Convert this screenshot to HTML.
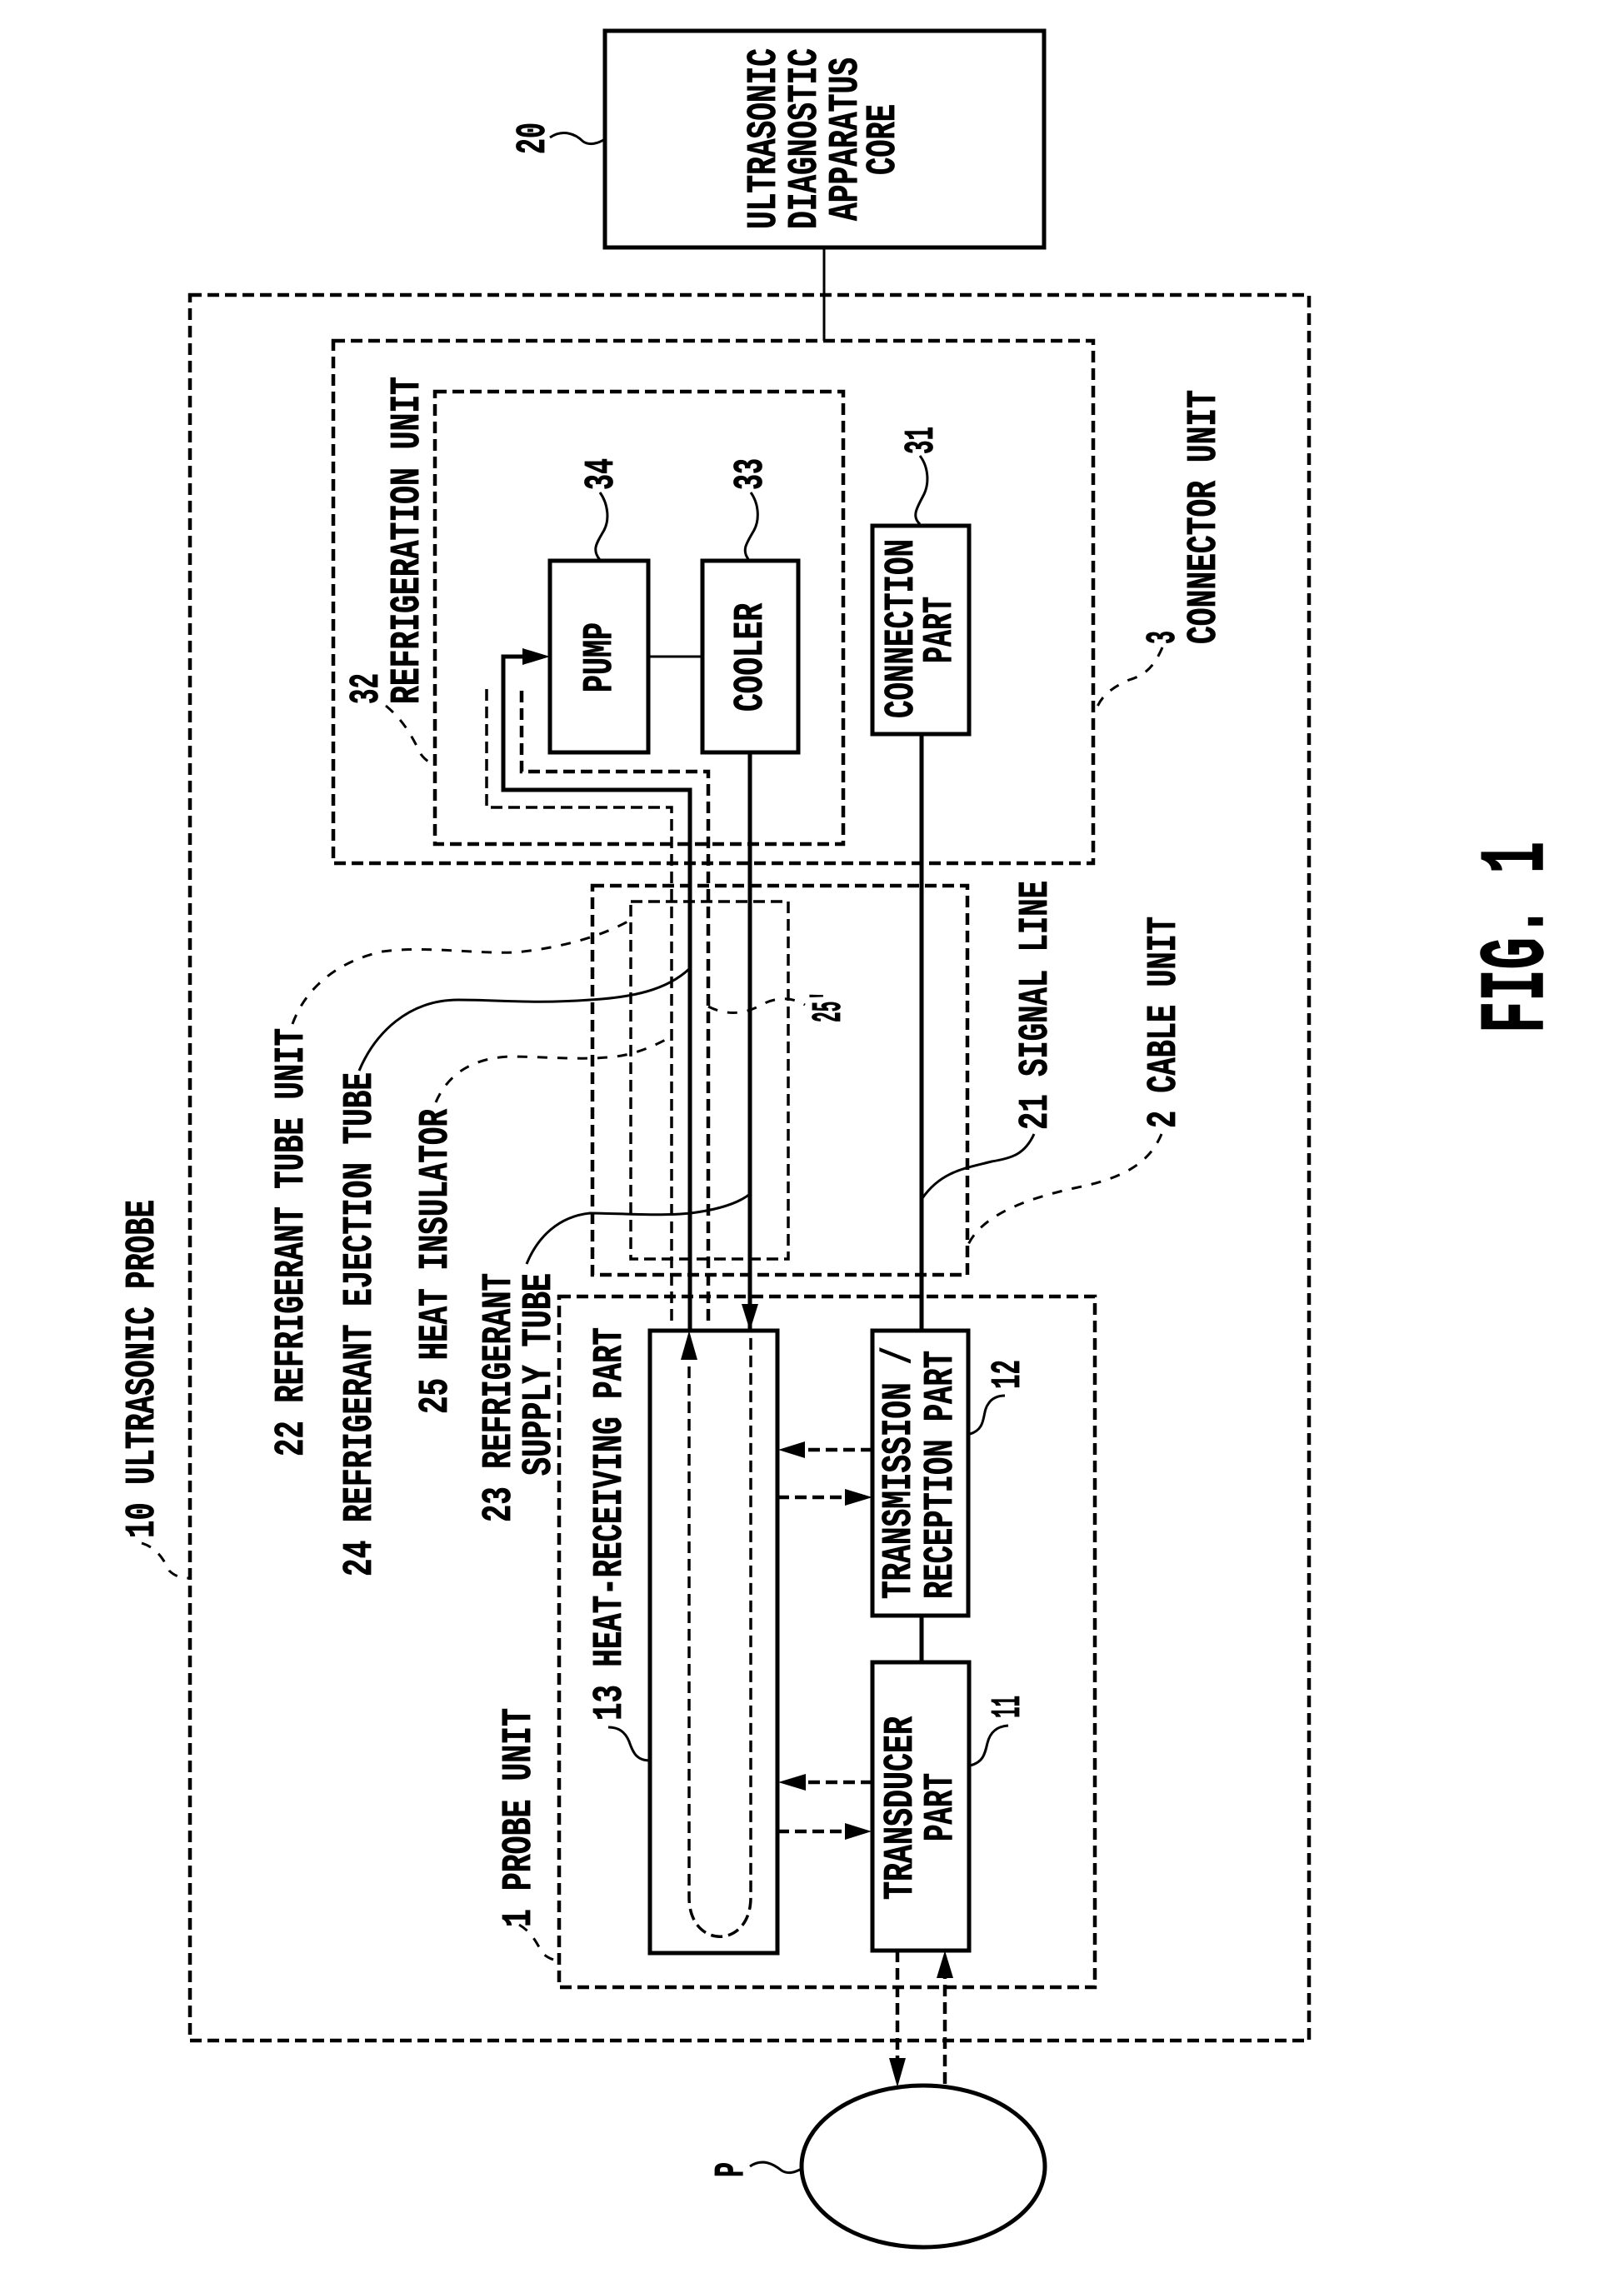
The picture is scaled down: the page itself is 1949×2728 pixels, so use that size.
<!DOCTYPE html>
<html><head><meta charset="utf-8"><style>
html,body{margin:0;padding:0;background:#fff}
svg{display:block}
text{font-family:"Liberation Mono",monospace;font-weight:bold;font-size:50px;fill:#000;stroke:#000;stroke-width:.8}
.b{fill:#fff;stroke:#000;stroke-width:5}
.d{fill:none;stroke:#000;stroke-width:4.5;stroke-dasharray:14 7}
.dt{fill:none;stroke:#000;stroke-width:3.5;stroke-dasharray:14 7}
.s{fill:none;stroke:#000;stroke-width:5}
.l{fill:none;stroke:#000;stroke-width:3}
.ld{fill:none;stroke:#000;stroke-width:3;stroke-dasharray:12 12}
.a{fill:#000}
</style></head><body>
<svg xmlns="http://www.w3.org/2000/svg" width="1949" height="2728" viewBox="0 0 1949 2728">
<rect width="1949" height="2728" fill="#fff"/>
<!-- dashed containers -->
<rect class="d" x="228" y="354" width="1343" height="2095"/>
<rect class="d" x="400" y="409" width="912" height="627"/>
<rect class="d" x="522" y="470" width="490" height="543"/>
<rect class="d" x="711" y="1063" width="450" height="467"/>
<rect class="dt" x="757" y="1082" width="189" height="429"/>
<rect class="d" x="671" y="1556" width="643" height="829"/>
<!-- connectors -->
<path class="l" d="M989 297V409"/>
<path class="l" d="M778 788H843"/>
<path class="s" d="M900 903V1597"/>
<path class="s" d="M1106 881V1597"/>
<path class="s" d="M1106 1939V1995"/>
<path class="s" d="M640 788H604V948H828V1597"/>
<path class="dt" d="M806 1585V969H584V827"/>
<path class="d" d="M850 1585V926H626V828"/>
<!-- boxes -->
<rect class="b" x="726" y="37" width="527" height="260"/>
<rect class="b" x="660" y="673" width="118" height="230"/>
<rect class="b" x="843" y="673" width="115" height="230"/>
<rect class="b" x="1047" y="631" width="116" height="250"/>
<rect class="b" x="780" y="1597" width="153" height="747"/>
<rect class="b" x="1047" y="1597" width="115" height="342"/>
<rect class="b" x="1047" y="1995" width="116" height="346"/>
<ellipse class="b" cx="1108" cy="2600" rx="146" ry="97"/>
<!-- U tube -->
<path class="dt" d="M827 1640V2277C827 2340 901 2340 901 2277V1600"/>
<!-- dashed arrows -->
<path class="d" d="M1047 1740H950"/>
<path class="d" d="M933 1797H1030"/>
<path class="d" d="M1047 2139H950"/>
<path class="d" d="M933 2198H1030"/>
<path class="d" d="M1077 2341V2490"/>
<path class="d" d="M1134 2501V2350"/>
<!-- arrowheads -->
<path class="a" d="M660 788L627 778V798Z"/>
<path class="a" d="M900 1597L890 1565H910Z"/>
<path class="a" d="M827 1597L817 1632H837Z"/>
<path class="a" d="M934 1740L966 1730V1750Z"/>
<path class="a" d="M1047 1797L1014 1787V1807Z"/>
<path class="a" d="M934 2139L967 2129V2149Z"/>
<path class="a" d="M1046 2198L1014 2188V2208Z"/>
<path class="a" d="M1077 2505L1067 2470H1087Z"/>
<path class="a" d="M1134 2341L1124 2374H1144Z"/>
<!-- solid leaders -->
<path class="l" d="M660 165C675 155 690 160 700 170C708 175 718 172 726 167"/>
<path class="l" d="M720 591C730 605 732 625 724 638C716 652 710 660 720 672"/>
<path class="l" d="M901 591C911 605 912 625 904 638C896 652 890 660 898 671"/>
<path class="l" d="M1104 547C1114 560 1116 580 1108 595C1100 610 1094 620 1104 629"/>
<path class="l" d="M1241 1361C1230 1385 1215 1390 1190 1394C1160 1402 1130 1405 1107 1438"/>
<path class="l" d="M431 1285C450 1240 490 1200 550 1200C600 1200 640 1205 708 1200C760 1197 800 1188 827 1163"/>
<path class="l" d="M632 1517C645 1485 670 1460 708 1456C740 1456 790 1460 829 1456C860 1452 885 1445 900 1433"/>
<path class="l" d="M1164 1721C1185 1715 1178 1695 1186 1685C1190 1678 1198 1675 1206 1675"/>
<path class="l" d="M1164 2119C1180 2115 1182 2105 1185 2092C1188 2080 1195 2072 1210 2071"/>
<path class="l" d="M780 2113C765 2113 760 2105 755 2090C750 2078 742 2073 730 2073"/>
<path class="l" d="M900 2600C915 2590 928 2597 938 2605C946 2610 954 2607 962 2603"/>
<!-- dashed leaders -->
<path class="ld" d="M351 1229C365 1190 400 1155 459 1142C510 1135 570 1145 619 1143C670 1138 720 1125 757 1104"/>
<path class="ld" d="M523 1323C535 1295 560 1270 612 1268C660 1268 720 1275 759 1264C780 1258 795 1250 806 1244"/>
<path class="ld" d="M850 1208C870 1218 890 1218 910 1208C930 1196 950 1196 966 1206"/>
<path class="ld" d="M1394 1361C1380 1395 1350 1412 1303 1423C1260 1432 1180 1450 1161 1496"/>
<path class="ld" d="M1395 777C1385 800 1375 810 1355 816C1335 825 1320 835 1314 856"/>
<path class="ld" d="M463 847C485 865 495 885 505 905C510 912 515 915 522 918"/>
<path class="ld" d="M170 1852C190 1858 198 1875 203 1885C210 1892 218 1894 227 1894"/>
<path class="ld" d="M623 2310C640 2320 645 2335 652 2345C658 2350 663 2352 669 2353"/>
<!-- labels -->
<text transform="translate(930,275) rotate(-90)" textLength="217" lengthAdjust="spacingAndGlyphs">ULTRASONIC</text>
<text transform="translate(979,275) rotate(-90)" textLength="217" lengthAdjust="spacingAndGlyphs">DIAGNOSTIC</text>
<text transform="translate(1028,265) rotate(-90)" textLength="196" lengthAdjust="spacingAndGlyphs">APPARATUS</text>
<text transform="translate(1073,210) rotate(-90)" textLength="85" lengthAdjust="spacingAndGlyphs">CORE</text>
<text transform="translate(653,185) rotate(-90)" textLength="38" lengthAdjust="spacingAndGlyphs">20</text>
<text transform="translate(733,831) rotate(-90)" textLength="84" lengthAdjust="spacingAndGlyphs">PUMP</text>
<text transform="translate(914,854) rotate(-90)" textLength="130" lengthAdjust="spacingAndGlyphs">COOLER</text>
<text transform="translate(1095,862) rotate(-90)" textLength="215" lengthAdjust="spacingAndGlyphs">CONNECTION</text>
<text transform="translate(1141,796) rotate(-90)" textLength="80" lengthAdjust="spacingAndGlyphs">PART</text>
<text transform="translate(735,588) rotate(-90)" textLength="38" lengthAdjust="spacingAndGlyphs">34</text>
<text transform="translate(914,588) rotate(-90)" textLength="38" lengthAdjust="spacingAndGlyphs">33</text>
<text transform="translate(1119,545) rotate(-90)" textLength="33" lengthAdjust="spacingAndGlyphs">31</text>
<text transform="translate(1409,773) rotate(-90)" textLength="16" lengthAdjust="spacingAndGlyphs">3</text>
<text transform="translate(1458,773) rotate(-90)" textLength="305" lengthAdjust="spacingAndGlyphs">CONNECTOR UNIT</text>
<text transform="translate(502,845) rotate(-90)" textLength="393" lengthAdjust="spacingAndGlyphs">REFRIGERATION UNIT</text>
<text transform="translate(453,845) rotate(-90)" textLength="37" lengthAdjust="spacingAndGlyphs">32</text>
<text transform="translate(1008,1227) rotate(-90)" textLength="38" lengthAdjust="spacingAndGlyphs">25'</text>
<text transform="translate(1256,1356) rotate(-90)" textLength="299" lengthAdjust="spacingAndGlyphs">21 SIGNAL LINE</text>
<text transform="translate(1410,1354) rotate(-90)" textLength="254" lengthAdjust="spacingAndGlyphs">2 CABLE UNIT</text>
<text transform="translate(363,1748) rotate(-90)" textLength="514" lengthAdjust="spacingAndGlyphs">22 REFRIGERANT TUBE UNIT</text>
<text transform="translate(445,1892) rotate(-90)" textLength="605" lengthAdjust="spacingAndGlyphs">24 REFRIGERANT EJECTION TUBE</text>
<text transform="translate(536,1697) rotate(-90)" textLength="366" lengthAdjust="spacingAndGlyphs">25 HEAT INSULATOR</text>
<text transform="translate(612,1827) rotate(-90)" textLength="299" lengthAdjust="spacingAndGlyphs">23 REFRIGERANT</text>
<text transform="translate(660,1771) rotate(-90)" textLength="243" lengthAdjust="spacingAndGlyphs">SUPPLY TUBE</text>
<text transform="translate(745,2065) rotate(-90)" textLength="472" lengthAdjust="spacingAndGlyphs">13 HEAT-RECEIVING PART</text>
<text transform="translate(1092,1919) rotate(-90)" textLength="303" lengthAdjust="spacingAndGlyphs">TRANSMISSION /</text>
<text transform="translate(1142,1919) rotate(-90)" textLength="298" lengthAdjust="spacingAndGlyphs">RECEPTION PART</text>
<text transform="translate(1223,1667) rotate(-90)" textLength="35" lengthAdjust="spacingAndGlyphs">12</text>
<text transform="translate(1094,2280) rotate(-90)" textLength="220" lengthAdjust="spacingAndGlyphs">TRANSDUCER</text>
<text transform="translate(1142,2210) rotate(-90)" textLength="82" lengthAdjust="spacingAndGlyphs">PART</text>
<text transform="translate(1223,2062) rotate(-90)" textLength="27" lengthAdjust="spacingAndGlyphs">11</text>
<text transform="translate(636,2313) rotate(-90)" textLength="263" lengthAdjust="spacingAndGlyphs">1 PROBE UNIT</text>
<text transform="translate(891,2613) rotate(-90)" textLength="18" lengthAdjust="spacingAndGlyphs">P</text>
<text transform="translate(184,1846) rotate(-90)" textLength="406" lengthAdjust="spacingAndGlyphs">10 ULTRASONIC PROBE</text>
<text transform="translate(1851,1240) rotate(-90)" textLength="230" lengthAdjust="spacingAndGlyphs" style="font-size:110px;stroke-width:1.5">FIG. 1</text>
</svg>
</body></html>
